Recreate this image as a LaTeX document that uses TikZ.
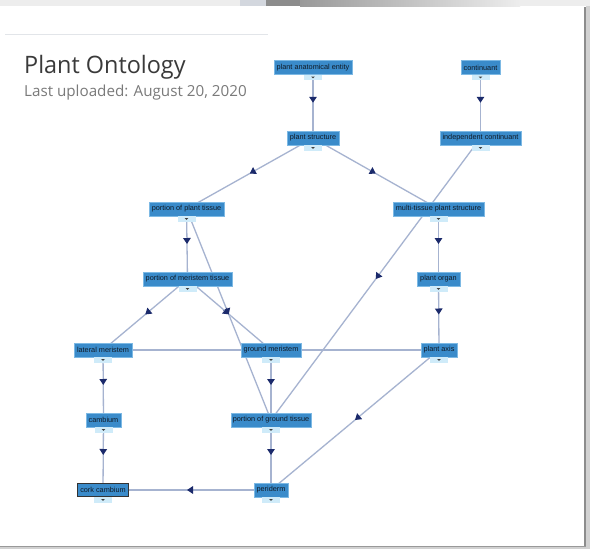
\documentclass[tikz,border=0pt]{standalone}
\usepackage{fontspec}
\usepackage{graphicx}
\usetikzlibrary{arrows.meta,decorations.markings,shadows}
\newfontfamily\titlefont{Open Sans}
\newfontfamily\labelfont{Liberation Sans}

\definecolor{nodeblue}{HTML}{3A8BCA}
\definecolor{nodeedge}{HTML}{7DB9E4}
\definecolor{nodetext}{HTML}{101A26}
\definecolor{tabblue}{HTML}{CFEBF9}
\definecolor{edgecol}{HTML}{A6B3D0}
\definecolor{tipcol}{HTML}{1B2A6B}
\definecolor{titlecol}{HTML}{3A3A3A}
\definecolor{subcol}{HTML}{7A7A7A}
\definecolor{rulecol}{HTML}{E2E5E9}
\definecolor{chromeblue}{HTML}{D3D7DE}

\pgfdeclarelayer{bg}
\pgfdeclarelayer{edges}
\pgfsetlayers{bg,edges,main}

\tikzset{
  term/.style={rectangle, fill=nodeblue, draw=nodeedge, line width=0.5pt,
    inner xsep=0pt, inner ysep=0pt, minimum height=14pt, text=nodetext,
    font=\labelfont\fontsize{7.3}{8}\selectfont},
  chosen/.style={draw=black!80, line width=1.4pt},
  link/.style={draw=edgecol, line width=1.3pt,
    postaction={decorate, decoration={markings,
      mark=at position 0.5 with {\arrow[tipcol]{Triangle[width=7.5pt,length=6pt]}}}}},
  plainlink/.style={draw=edgecol, line width=1.3pt},
  tab/.style={fill=tabblue},
  tabmark/.style={fill=black!75}
}

\begin{document}
\begin{tikzpicture}[x=1pt,y=-1pt]
\path[use as bounding box] (0,0) rectangle (590,549);

% page, card and window chrome
\begin{pgfonlayer}{bg}
  \fill[white] (0,0) rectangle (590,549);
  \fill[black!7] (0,0) rectangle (590,6);
  \fill[chromeblue] (240,0) rectangle (266,6);
  \fill[black!45] (266,0) rectangle (300,6);
  \shade[left color=black!40, right color=black!7] (300,0) rectangle (520,6);
  \fill[black!18] (586,6) rectangle (590,549);
  \fill[black!18] (0,546) rectangle (590,549);
  \draw[black!45, line width=1.2pt] (585,7) -- (585,546.5);
  \draw[black!40, line width=1.2pt] (0,546.5) -- (585.6,546.5);
  \draw[rulecol, line width=1pt] (5,34) -- (268,34);
\end{pgfonlayer}

% heading
\node[anchor=base west, inner sep=0pt, text=titlecol, font=\titlefont\fontsize{24}{28}\selectfont]
  (title) at (24,73) {\scalebox{0.975}[1]{Plant Ontology}};
\node[anchor=base west, inner sep=0pt, text=subcol, font=\titlefont\fontsize{15.2}{18}\selectfont]
  (subtitle) at (24,96) {Last uploaded: August 20, 2020};

% ontology terms
\node[term, minimum width=78pt] (pae)  at (313,67.5)   {plant anatomical entity};
\node[term, minimum width=39pt] (cont) at (480.5,67.5) {continuant};
\node[term, minimum width=52pt] (ps)   at (313,138)    {plant structure};
\node[term, minimum width=81pt] (ic)   at (480.5,138)  {independent continuant};
\node[term, minimum width=75pt] (ppt)  at (186.5,209)  {portion of plant tissue};
\node[term, minimum width=91pt] (mtps) at (438.5,209)  {multi-tissue plant structure};
\node[term, minimum width=89pt] (pmt)  at (187.5,279)  {portion of meristem tissue};
\node[term, minimum width=43pt] (po)   at (438.5,279)  {plant organ};
\node[term, minimum width=58pt] (lm)   at (103,350)    {lateral meristem};
\node[term, minimum width=60pt] (gm)   at (271,350)    {ground meristem};
\node[term, minimum width=36pt] (pax)  at (439,350)    {plant axis};
\node[term, minimum width=35pt] (camb) at (103.5,420)  {cambium};
\node[term, minimum width=80pt] (pgt)  at (271,420)    {portion of ground tissue};
\node[term, chosen, minimum width=51pt, minimum height=13pt] (cc) at (103,490) {cork cambium};
\node[term, minimum width=34pt] (per)  at (271,490)    {periderm};

% expand tabs under each term
\foreach \n in {pae,cont,ps,ic,ppt,mtps,pmt,po,lm,gm,pax,camb,pgt,cc,per}{
  \fill[tab] ([xshift=-9pt]\n.south) rectangle ([xshift=9pt,yshift=-5.5pt]\n.south);
  \fill[tabmark] ([xshift=-1.8pt,yshift=-1.8pt]\n.south) -- ([xshift=1.8pt,yshift=-1.8pt]\n.south)
     -- ([yshift=-3.6pt]\n.south) -- cycle;
}

% is-a links
\begin{pgfonlayer}{edges}
  \draw[link] (pae.center) -- (ps.center);
  \draw[link] (cont.center) -- (ic.center);
  \draw[link] (ps.center) -- (ppt.center);
  \draw[link] (ps.center) -- (mtps.center);
  \draw[link] (ic.center) -- (pgt.center);
  \draw[link] (mtps.center) -- (po.center);
  \draw[link] (po.center) -- (pax.center);
  \draw[link] (ppt.center) -- (pmt.center);
  \draw[link] (ppt.center) -- (pgt.center);
  \draw[link] (pmt.center) -- (lm.center);
  \draw[link] (pmt.center) -- (gm.center);
  \draw[plainlink] (lm.center) -- (pax.center);
  \draw[link] (lm.center) -- (camb.center);
  \draw[link] (gm.center) -- (pgt.center);
  \draw[link] (camb.center) -- (cc.center);
  \draw[link] (pgt.center) -- (per.center);
  \draw[link] (pax.center) -- (per.center);
  \draw[link] (per.center) -- (cc.center);
\end{pgfonlayer}
\end{tikzpicture}
\end{document}
